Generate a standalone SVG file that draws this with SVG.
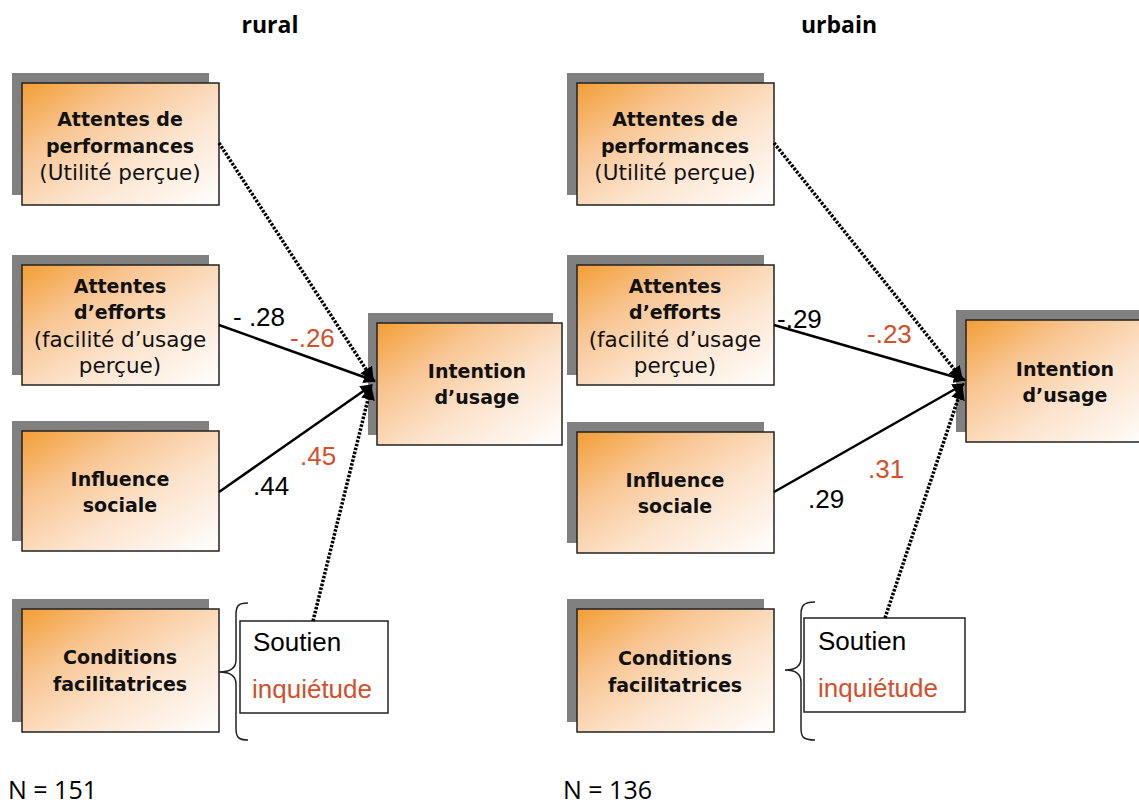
<svg xmlns="http://www.w3.org/2000/svg" width="1139" height="805" viewBox="0 0 1139 805">
<defs>
<linearGradient id="g" x1="0" y1="0" x2="1" y2="1">
<stop offset="0" stop-color="#F29E35"/>
<stop offset="0.3" stop-color="#F8C592"/>
<stop offset="0.6" stop-color="#FCE3CC"/>
<stop offset="1" stop-color="#FFFFFF"/>
</linearGradient>
<marker id="ah" viewBox="0 0 10 10" refX="9" refY="5" markerWidth="5" markerHeight="5" orient="auto" markerUnits="strokeWidth">
<path d="M0,0 L10,5 L0,10 z" fill="#000"/>
</marker>
<marker id="ahd" viewBox="0 0 10 10" refX="9" refY="5" markerWidth="4" markerHeight="4" orient="auto" markerUnits="strokeWidth">
<path d="M0,0 L10,5 L0,10 z" fill="#000"/>
</marker>
</defs>
<style>
.sh{fill:#808080}
.bx{fill:url(#g);stroke:#222;stroke-width:1.5}
.wb{fill:#fff;stroke:#222;stroke-width:1.5}
.t{font-family:"DejaVu Sans","Noto Sans",sans-serif;font-size:21.5px;fill:#111;text-anchor:middle}
.b{font-weight:bold;font-size:19px}
.h{font-family:"Open Sans","Noto Sans",sans-serif;font-size:23px;font-weight:bold;fill:#000;text-anchor:middle}
.a{font-family:"Liberation Sans",Arial,sans-serif;font-size:26px;fill:#000}
.s{font-family:"Liberation Sans",Arial,sans-serif;font-size:26px;fill:#000}
.n{font-family:"Open Sans","Noto Sans",sans-serif;font-size:25px;fill:#000}
.r{fill:#D2502C}
.sol{stroke:#000;stroke-width:2.5;fill:none;marker-end:url(#ah)}
.dot{stroke:#000;stroke-width:3.5;fill:none;stroke-dasharray:2.5 1.5;marker-end:url(#ahd)}
.br{stroke:#222;stroke-width:1.5;fill:none}
</style>

<text class="h" x="270" y="33">rural</text>
<text class="h" x="839" y="33">urbain</text>

<g id="rural-perf">
<rect class="sh" x="12" y="73" width="197" height="122"/>
<rect class="bx" x="22" y="83" width="197" height="122"/>
<text class="t b" x="120" y="126">Attentes de</text>
<text class="t b" x="120" y="153">performances</text>
<text class="t" x="120" y="180">(Utilité perçue)</text>
</g>
<g id="rural-effort">
<rect class="sh" x="12" y="255" width="197" height="120"/>
<rect class="bx" x="22" y="265" width="197" height="120"/>
<text class="t b" x="120" y="293">Attentes</text>
<text class="t b" x="120" y="319">d’efforts</text>
<text class="t" x="120" y="347">(facilité d’usage</text>
<text class="t" x="120" y="373">perçue)</text>
</g>
<g id="rural-social">
<rect class="sh" x="12" y="421" width="197" height="120"/>
<rect class="bx" x="22" y="431" width="197" height="120"/>
<text class="t b" x="120" y="486">Influence</text>
<text class="t b" x="120" y="512">sociale</text>
</g>
<g id="rural-cond">
<rect class="sh" x="12" y="599" width="197" height="123"/>
<rect class="bx" x="22" y="609" width="197" height="123"/>
<text class="t b" x="120" y="664">Conditions</text>
<text class="t b" x="120" y="691">facilitatrices</text>
</g>
<g id="rural-intention">
<rect class="sh" x="368" y="313" width="185" height="122"/>
<rect class="bx" x="377" y="323" width="185" height="122"/>
<text class="t b" x="477" y="378">Intention</text>
<text class="t b" x="477" y="404">d’usage</text>
</g>
<g id="rural-soutien">
<path class="br" d="M248,603 C238,603 236,606 236,615 L236,660 C236,668 230,672 219,672 C230,672 236,676 236,684 L236,728 C236,737 238,740 248,740"/>
<rect class="wb" x="240" y="621" width="148" height="92"/>
<text class="s" x="253" y="651">Soutien</text>
<text class="s r" x="252" y="698">inquiétude</text>
</g>

<g id="urban-perf">
<rect class="sh" x="567" y="73" width="197" height="122"/>
<rect class="bx" x="577" y="83" width="197" height="122"/>
<text class="t b" x="675" y="126">Attentes de</text>
<text class="t b" x="675" y="153">performances</text>
<text class="t" x="675" y="180">(Utilité perçue)</text>
</g>
<g id="urban-effort">
<rect class="sh" x="567" y="255" width="197" height="120"/>
<rect class="bx" x="577" y="265" width="197" height="120"/>
<text class="t b" x="675" y="293">Attentes</text>
<text class="t b" x="675" y="319">d’efforts</text>
<text class="t" x="675" y="347">(facilité d’usage</text>
<text class="t" x="675" y="373">perçue)</text>
</g>
<g id="urban-social">
<rect class="sh" x="567" y="422" width="197" height="121"/>
<rect class="bx" x="577" y="432" width="197" height="121"/>
<text class="t b" x="675" y="487">Influence</text>
<text class="t b" x="675" y="513">sociale</text>
</g>
<g id="urban-cond">
<rect class="sh" x="567" y="599" width="197" height="123"/>
<rect class="bx" x="577" y="609" width="197" height="123"/>
<text class="t b" x="675" y="665">Conditions</text>
<text class="t b" x="675" y="692">facilitatrices</text>
</g>
<g id="urban-intention">
<rect class="sh" x="956" y="310" width="190" height="122"/>
<rect class="bx" x="966" y="320" width="190" height="122"/>
<text class="t b" x="1065" y="376">Intention</text>
<text class="t b" x="1065" y="402">d’usage</text>
</g>
<g id="urban-soutien">
<path class="br" d="M815,602 C803,602 801,606 801,615 L801,658 C801,666 795,670 785,670 C795,670 801,674 801,682 L801,728 C801,737 803,740 815,740"/>
<rect class="wb" x="804" y="618" width="161" height="94"/>
<text class="s" x="818" y="650">Soutien</text>
<text class="s r" x="818" y="697">inquiétude</text>
</g>

<g id="connectors">
<line class="dot" x1="219" y1="143" x2="373" y2="380"/>
<line class="sol" x1="219" y1="325" x2="375" y2="381"/>
<line class="sol" x1="219" y1="492" x2="372" y2="385"/>
<line class="dot" x1="313" y1="621" x2="371" y2="387"/>
<line class="dot" x1="774" y1="143" x2="962" y2="379"/>
<line class="sol" x1="774" y1="325" x2="965" y2="380"/>
<line class="sol" x1="774" y1="492" x2="964" y2="384"/>
<line class="dot" x1="885" y1="618" x2="962" y2="387"/>
</g>

<g id="labels">
<text class="a" x="233" y="326">- .28</text>
<text class="a r" x="290" y="347">-.26</text>
<text class="a r" x="300" y="465">.45</text>
<text class="a" x="253" y="495">.44</text>
<text class="a" x="777" y="328">-.29</text>
<text class="a r" x="867" y="343">-.23</text>
<text class="a r" x="868" y="478">.31</text>
<text class="a" x="808" y="508">.29</text>
</g>

<text class="n" x="8" y="799">N = 151</text>
<text class="n" x="563" y="799">N = 136</text>
</svg>
